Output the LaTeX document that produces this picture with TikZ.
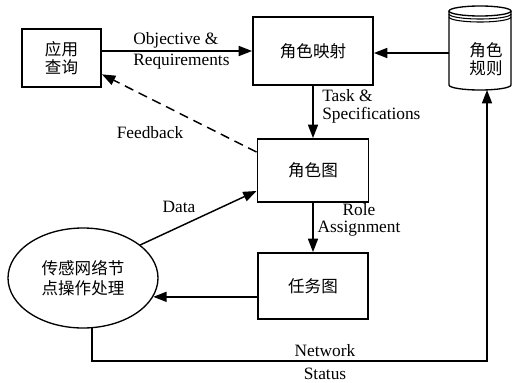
\documentclass[tikz,border=0pt]{standalone}
\usepackage{fontspec}
\setmainfont{Liberation Serif}
\newfontfamily\cjk{Noto Sans CJK SC}
\usetikzlibrary{arrows.meta,shapes.geometric}

\begin{document}
\begin{tikzpicture}[x=0.75pt,y=-0.75pt,font=\fontsize{13}{15}\selectfont,
    >={Triangle[length=10pt,width=7.5pt]},
    box/.style={draw,line width=1.4pt,inner sep=0pt,align=center,
      font=\cjk\fontsize{12.4}{13.5}\selectfont},
    lbl/.style={inner sep=0pt,align=center},
    link/.style={->,line width=1.1pt}]
  \useasboundingbox (0,0) rectangle (523,382);
  \node[box,minimum width=59.3pt,minimum height=43.5pt] (app) at (61.5,58) {应用\\查询};
  \node[box,minimum width=90pt,minimum height=51pt] (rolemap) at (313,51) {角色映射};
  \node[box,minimum width=83.3pt,minimum height=47.3pt] (rolegraph) at (313,170.5) {角色图};
  \node[box,minimum width=82.5pt,minimum height=49.5pt] (taskgraph) at (313,286) {任务图};
  \node[box,ellipse,line width=1pt,minimum width=112.5pt,minimum height=75pt,
    font=\cjk\fontsize{12.4}{15}\selectfont] (sensor) at (83,278) {传感网络节\\点操作处理};
  \draw[line width=1pt] (449,11) -- (449,85)
    arc[start angle=180,end angle=360,x radius=23.25pt,y radius=3.75pt] -- (511,11);
  \draw[line width=1pt] (480,11) ellipse[x radius=23.25pt,y radius=3.75pt];
  \draw[line width=0.8pt] (449,14) arc[start angle=180,end angle=360,x radius=23.25pt,y radius=3.75pt];
  \draw[line width=0.8pt] (449,17) arc[start angle=180,end angle=360,x radius=23.25pt,y radius=3.75pt];
  \node[align=center,font=\cjk\fontsize{12.4}{13.5}\selectfont] (rules) at (486,59) {角色\\规则};
  \coordinate (rules-w) at (449,53);
  \coordinate (rules-s) at (487,90);
  \draw[link] (app.east |- rolemap.west) -- (rolemap.west);
  \draw[link] (rules-w) -- (rolemap.east |- rules-w);
  \draw[link] (rolemap.south) -- (rolegraph.north);
  \draw[link] (rolegraph.south) -- (taskgraph.north);
  \draw[link] (taskgraph.west |- sensor.-15) -- (sensor.-15);
  \draw[link] (sensor.30) -- ([yshift=9pt]rolegraph.south west);
  \draw[link,dash pattern=on 7pt off 4.5pt] ([yshift=-10.5pt]rolegraph.north west) -- (app.-22);
  \draw[link] (sensor.-80) |- (rules-s |- 0,361) -- (rules-s);
  \node[lbl,anchor=west,align=left] (objlbl) at (133,50.5) {Objective \&\\[0.75pt]Requirements};
  \node[lbl,anchor=west,align=left] (tasklbl) at (322,106.5) {Task \&\\[-1.5pt]Specifications};
  \node[lbl] (rolelbl) at (359,220) {Role\\[-2.25pt]Assignment};
  \node[lbl] (datalbl) at (179,207) {Data};
  \node[lbl] (feedlbl) at (150,133) {Feedback};
  \node[lbl] (netlbl) at (325,351) {Network};
  \node[lbl] (statlbl) at (325,374) {Status};
\end{tikzpicture}
\end{document}
